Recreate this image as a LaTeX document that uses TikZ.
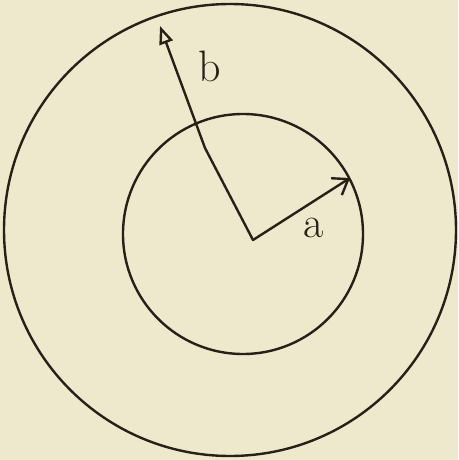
\documentclass[tikz,border=0pt]{standalone}
\usetikzlibrary{arrows.meta}
\definecolor{paper}{RGB}{238,233,205}
\definecolor{ink}{RGB}{40,32,22}
\begin{document}
\begin{tikzpicture}[x=1pt,y=-1pt,
  ring/.style={draw=ink,line width=2.4pt,circle,inner sep=0pt},
  radius arrow/.style={draw=ink,line width=2.4pt,line cap=round},
  lbl/.style={text=ink,font=\fontsize{44}{44}\selectfont}]
\fill[paper] (0,0) rectangle (458,460);
\useasboundingbox (0,0) rectangle (458,460);
\node[ring,minimum size=452pt] (outer) at (230,230) {};
\node[ring,minimum size=240pt] (inner) at (243,234) {};
\coordinate (c) at (253,240);
\coordinate (atip) at (350,178);
\coordinate (btip) at (160,26);
\draw[radius arrow,-{Straight Barb[length=14pt,width=20pt]}] (c) -- (atip);
\draw[radius arrow,-{Triangle[open,length=18pt,width=14pt]}] (c) -- (205,148) -- (btip);
\node[lbl] (a) at (314,228) {a};
\node[lbl] (b) at (210,66) {b};
\end{tikzpicture}
\end{document}
